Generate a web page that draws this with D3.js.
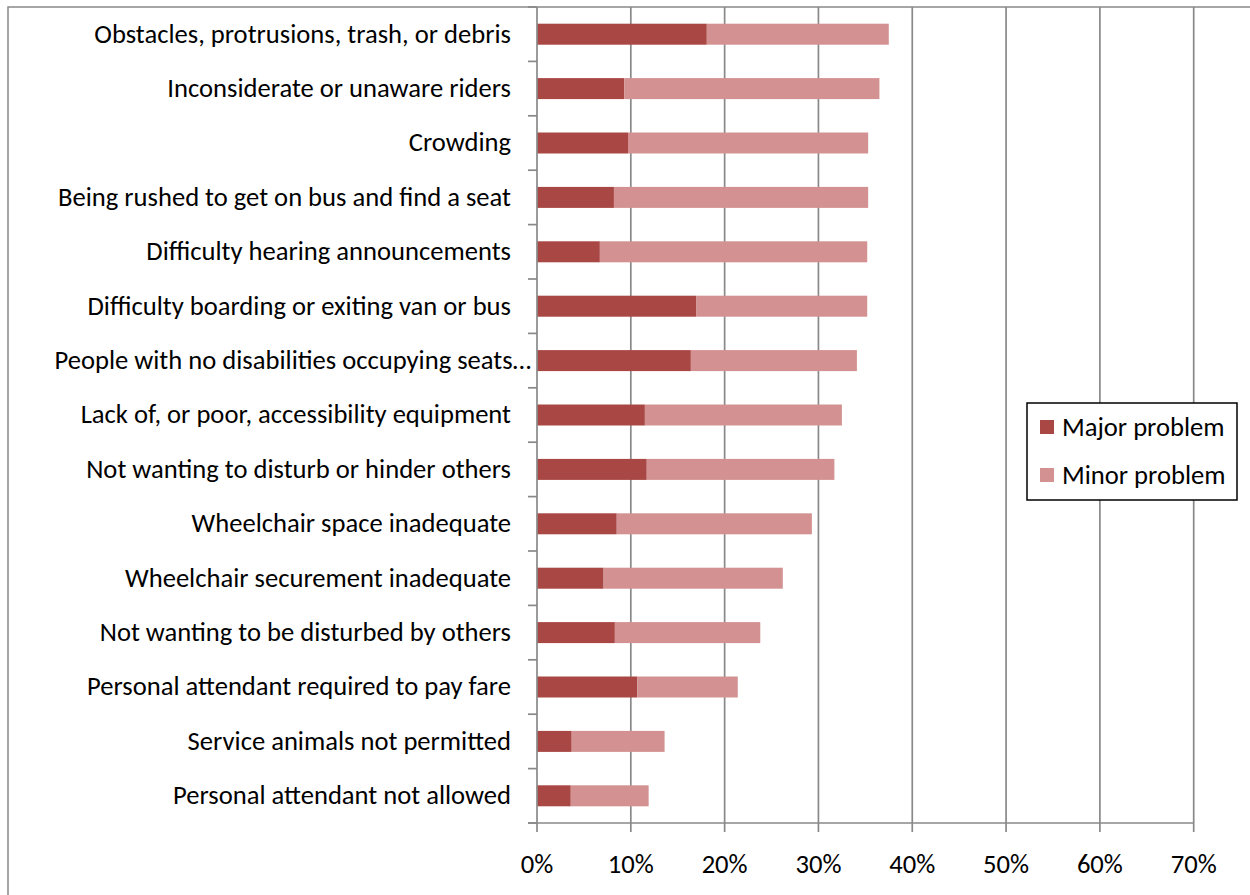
<!DOCTYPE html>
<html>
<head>
<meta charset="utf-8">
<script src="https://cdn.jsdelivr.net/npm/d3@7"></script>
<style>
  html, body { margin: 0; padding: 0; background: #fff; }
  svg { display: block; }
  text { font-family: Carlito, Lato, "Open Sans", sans-serif; fill: #000; }
</style>
</head>
<body>
<svg id="chart" width="1250" height="895"></svg>
<script>
// Reported problems on transit, share of respondents (%)
const categories = [
  "Obstacles, protrusions, trash, or debris",
  "Inconsiderate or unaware riders",
  "Crowding",
  "Being rushed to get on bus and find a seat",
  "Difficulty hearing announcements",
  "Difficulty boarding or exiting van or bus",
  "People with no disabilities occupying seats…",
  "Lack of, or poor, accessibility equipment",
  "Not wanting to disturb or hinder others",
  "Wheelchair space inadequate",
  "Wheelchair securement inadequate",
  "Not wanting to be disturbed by others",
  "Personal attendant required to pay fare",
  "Service animals not permitted",
  "Personal attendant not allowed"
];
const majorProblem = [18.1, 9.3, 9.7, 8.2, 6.7, 17.0, 16.4, 11.5, 11.7, 8.5, 7.1, 8.3, 10.7, 3.7, 3.6];
const minorProblem = [19.4, 27.2, 25.6, 27.1, 28.5, 18.2, 17.7, 21.0, 20.0, 20.8, 19.1, 15.5, 10.7, 9.9, 8.3];
const seriesNames = ["Major problem", "Minor problem"];
const xTicks = [0, 10, 20, 30, 40, 50, 60, 70];

const colors = { "Major problem": "#A94744", "Minor problem": "#D39291" };
const gridColor = "#898989";
const fontSize = 26.6;

const svg = d3.select("#chart");

// Outer chart frame
svg.append("rect")
  .attr("x", 8).attr("y", 7).attr("width", 1400).attr("height", 1000)
  .attr("fill", "none").attr("stroke", gridColor).attr("stroke-width", 1.5);

const plot = { left: 537, right: 1193.7, top: 7, bottom: 823 };

const x = d3.scaleLinear().domain([0, 70]).range([plot.left, plot.right]);
const pad = 0.614;
const y = d3.scaleBand().domain(categories)
  .range([plot.top, plot.bottom])
  .paddingInner(pad).paddingOuter(pad / 2);

// Vertical gridlines
svg.append("g").selectAll("line")
  .data(xTicks.slice(1))
  .join("line")
  .attr("x1", d => x(d)).attr("x2", d => x(d))
  .attr("y1", plot.top).attr("y2", plot.bottom)
  .attr("stroke", gridColor).attr("stroke-width", 1.7);

// Stacked bars
const rows = categories.map((c, i) => ({ cat: c, "Major problem": majorProblem[i], "Minor problem": minorProblem[i] }));
const stacked = d3.stack().keys(seriesNames)(rows);

svg.append("g").selectAll("g")
  .data(stacked)
  .join("g")
  .attr("fill", d => colors[d.key])
  .selectAll("rect")
  .data(d => d)
  .join("rect")
  .attr("x", d => x(d[0]))
  .attr("width", d => x(d[1]) - x(d[0]))
  .attr("y", d => y(d.data.cat))
  .attr("height", y.bandwidth());

// Category axis: line plus ticks at band boundaries
const step = y.step();
const boundaries = d3.range(categories.length + 1).map(i => plot.top + i * step);
const yAxis = svg.append("g");
yAxis.append("line")
  .attr("x1", plot.left).attr("x2", plot.left)
  .attr("y1", plot.top).attr("y2", plot.bottom)
  .attr("stroke", gridColor).attr("stroke-width", 1.7);
yAxis.selectAll("line.tick")
  .data(boundaries)
  .join("line").attr("class", "tick")
  .attr("x1", plot.left - 9).attr("x2", plot.left)
  .attr("y1", d => d).attr("y2", d => d)
  .attr("stroke", gridColor).attr("stroke-width", 1.7);

yAxis.selectAll("text")
  .data(categories)
  .join("text")
  .attr("x", d => d.endsWith("…") ? 531 : 511)
  .attr("y", d => y(d) + y.bandwidth() / 2 - 1)
  .attr("dy", "0.35em")
  .attr("text-anchor", "end")
  .attr("font-size", fontSize)
  .text(d => d);

// Value axis along the bottom
const xAxis = svg.append("g");
xAxis.append("line")
  .attr("x1", plot.left - 9).attr("x2", plot.right)
  .attr("y1", plot.bottom).attr("y2", plot.bottom)
  .attr("stroke", gridColor).attr("stroke-width", 1.7);
xAxis.selectAll("line.tick")
  .data(xTicks)
  .join("line").attr("class", "tick")
  .attr("x1", d => x(d)).attr("x2", d => x(d))
  .attr("y1", plot.bottom).attr("y2", plot.bottom + 9)
  .attr("stroke", gridColor).attr("stroke-width", 1.7);
xAxis.selectAll("text")
  .data(xTicks)
  .join("text")
  .attr("x", d => x(d))
  .attr("y", 873)
  .attr("text-anchor", "middle")
  .attr("font-size", fontSize)
  .text(d => d + "%");

// Legend
const legend = svg.append("g");
legend.append("rect")
  .attr("x", 1027).attr("y", 403).attr("width", 210).attr("height", 97)
  .attr("fill", "#fff").attr("stroke", "#000").attr("stroke-width", 1.5);
const items = legend.selectAll("g.item")
  .data(seriesNames)
  .join("g").attr("class", "item")
  .attr("transform", (d, i) => `translate(1040, ${427 + i * 48})`);
items.append("rect")
  .attr("x", 0).attr("y", -7).attr("width", 14).attr("height", 14)
  .attr("fill", d => colors[d]);
items.append("text")
  .attr("x", 22).attr("y", 0).attr("dy", "0.35em")
  .attr("font-size", fontSize)
  .text(d => d);
</script>
</body>
</html>
